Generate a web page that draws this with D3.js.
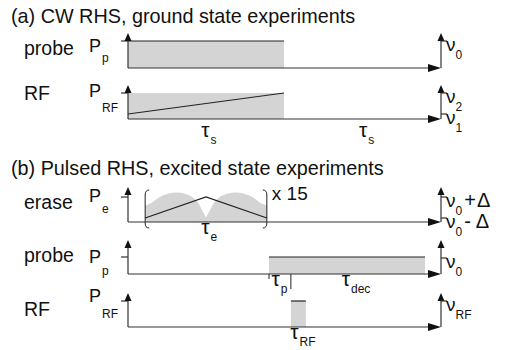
<!DOCTYPE html>
<html>
<head>
<meta charset="utf-8" />
<script src="https://cdn.jsdelivr.net/npm/d3@7"></script>
<style>
html, body { margin: 0; padding: 0; background: #fff; }
svg text { font-family: "Liberation Sans", Arial, Helvetica, sans-serif; fill: #111; }
.pulse { fill: #d4d4d4; stroke: none; }
.trace { stroke: #222; stroke-width: 1.2; fill: none; }
.axis { stroke: #333; stroke-width: 1.2; fill: none; }
.head { fill: #111; stroke: none; }
</style>
</head>
<body>
<div id="chart"></div>
<script>
// time runs 0..10 (arbitrary units) along every row
var timeDomain = [0, 10];

// (a) CW RHS, ground state
var cwProbePulse = [{t0: 0, t1: 5, p: 1}];
var cwRfPulse = [{t0: 0, t1: 5, p: 1}];
var cwRfSweep = [{t: 0, f: 0}, {t: 5, f: 1}];          // f: 0 = nu1, 1 = nu2
var cwTau = [{t: 2.35, sub: "s"}, {t: 7.4, sub: "s"}];

// (b) pulsed RHS, excited state
var eraseWindow = [0.55, 4.45];
var eraseSweep = [{t: 0.55, f: 0}, {t: 2.5, f: 1}, {t: 4.45, f: 0}];  // f: 0 = nu0-D, 1 = nu0+D
// envelope of the erase power: u = fraction of the window, a = amplitude
var eraseEnvelopeLeft = [
  [0, 0.66], [0.05, 0.76], [0.12, 1.0], [0.2, 1.15], [0.26, 1.18], [0.32, 1.14],
  [0.38, 1.02], [0.43, 0.8], [0.47, 0.45], [0.5, 0.18]
];
var eraseEnvelopeRight = [
  [0.5, 0.18], [0.53, 0.45], [0.57, 0.8], [0.62, 1.02], [0.68, 1.14], [0.74, 1.18],
  [0.8, 1.15], [0.88, 1.0], [0.95, 0.76], [1, 0.66]
];
var probePulse = [{t0: 4.52, t1: 9.52, p: 1}];
var rfPulse = [{t0: 5.22, t1: 5.7, p: 1}];
var probeMarks = [{t: 4.52, len: 5}, {t: 5.22, len: 15}];
var pulsedTau = [
  {t: 2.35, row: "erase", sub: "e"},
  {t: 4.6, row: "bProbe", sub: "p"},
  {t: 6.85, row: "bProbe", sub: "dec"},
  {t: 5.2, row: "bRf", sub: "RF"}
];

var titles = ["(a) CW RHS, ground state experiments", "(b) Pulsed RHS, excited state experiments"];

var width = 505, height = 350;
var x = d3.scaleLinear().domain(timeDomain).range([128, 440]);

// layout of each row
var rows = {
  aProbe: {label: "probe", labelY: 55, P: "p", pY: 52, subY: 62, base: 68, level: 41, tip: 33,
           fRange: [68, 41], ticks: [{f: 1, sub: "0"}]},
  aRf:    {label: "RF", labelY: 100, P: "RF", pY: 97, subY: 112, base: 119, level: 93, tip: 85,
           fRange: [114, 93], ticks: [{f: 1, sub: "2"}, {f: 0, sub: "1"}]},
  erase:  {label: "erase", labelY: 209, P: "e", pY: 202, subY: 213, base: 222, level: 197, tip: 187,
           fRange: [218, 197], ticks: [{f: 1, sub: "0", op: "+", gap: 1}, {f: 0, sub: "0", op: "-", gap: 5}]},
  bProbe: {label: "probe", labelY: 262, P: "p", pY: 263, subY: 275, base: 274, level: 257, tip: 240,
           fRange: [274, 258], ticks: [{f: 1, sub: "0"}]},
  bRf:    {label: "RF", labelY: 316, P: "RF", pY: 302, subY: 318, base: 327, level: 301, tip: 293,
           fRange: [327, 301], ticks: [{f: 1, sub: "RF"}]}
};

Object.keys(rows).forEach(function(k) {
  var r = rows[k];
  r.y = d3.scaleLinear().domain([0, 1]).range([r.base, r.level]);
  r.f = d3.scaleLinear().domain([0, 1]).range(r.fRange);
});

var svg = d3.select("#chart").append("svg")
  .attr("width", width).attr("height", height);

svg.selectAll("text.title").data(titles).enter().append("text")
  .attr("class", "title")
  .attr("x", 11)
  .attr("y", function(d, i) { return i === 0 ? 23 : 175; })
  .style("font-size", "19.8px")
  .text(function(d) { return d; });

function pulses(r, data) {
  svg.selectAll(null).data(data).enter().append("rect")
    .attr("class", "pulse")
    .attr("x", function(d) { return x(d.t0); })
    .attr("width", function(d) { return x(d.t1) - x(d.t0); })
    .attr("y", function(d) { return r.y(d.p); })
    .attr("height", function(d) { return r.y(0) - r.y(d.p); });
}

function pulseTops(r, data) {
  svg.selectAll(null).data(data).enter().append("line")
    .attr("class", "trace")
    .attr("x1", function(d) { return x(d.t0); })
    .attr("x2", function(d) { return x(d.t1); })
    .attr("y1", function(d) { return r.y(d.p); })
    .attr("y2", function(d) { return r.y(d.p); });
}

function tauLabel(t, yBase, sub) {
  var tx = svg.append("text").attr("x", x(t)).attr("y", yBase).style("font-size", "21px");
  tx.append("tspan").text("\u03c4");
  tx.append("tspan").attr("dy", 7).attr("dx", 1).style("font-size", "12px").text(sub);
}

// pulses first, axes drawn over them
pulses(rows.aProbe, cwProbePulse);
pulseTops(rows.aProbe, cwProbePulse);
pulses(rows.aRf, cwRfPulse);
svg.append("path").attr("class", "trace")
  .attr("d", d3.line().x(function(d) { return x(d.t); }).y(function(d) { return rows.aRf.f(d.f); })(cwRfSweep));

// erase envelope
var ew = d3.scaleLinear().domain([0, 1]).range(eraseWindow);
var envArea = d3.area()
  .x(function(d) { return x(ew(d[0])); })
  .y0(rows.erase.base)
  .y1(function(d) { return rows.erase.y(d[1]); })
  .curve(d3.curveCatmullRom);
[eraseEnvelopeLeft, eraseEnvelopeRight].forEach(function(h) {
  svg.append("path").attr("class", "pulse").attr("d", envArea(h));
});
svg.append("path").attr("class", "trace")
  .attr("d", d3.line().x(function(d) { return x(d.t); }).y(function(d) { return rows.erase.f(d.f); })(eraseSweep));

// brackets round the erase window
var bTop = rows.erase.tip + 3, bBot = rows.erase.base + 6;
eraseWindow.forEach(function(t, i) {
  var bx = x(t), s = i === 0 ? 1 : -1;
  svg.append("path").attr("class", "trace").style("stroke-width", 1)
    .attr("d", "M" + (bx + 4 * s) + "," + bTop +
      " Q" + bx + "," + bTop + " " + bx + "," + (bTop + 5) +
      " L" + bx + "," + (bBot - 5) +
      " Q" + bx + "," + bBot + " " + (bx + 4 * s) + "," + bBot);
});
svg.append("text").attr("x", x(eraseWindow[1]) + 5).attr("y", 200)
  .style("font-size", "19px").text("x 15");

pulses(rows.bProbe, probePulse);
pulseTops(rows.bProbe, probePulse);
pulses(rows.bRf, rfPulse);
pulseTops(rows.bRf, rfPulse);

svg.selectAll(null).data(probeMarks).enter().append("line")
  .attr("class", "trace").style("stroke-width", 1)
  .attr("x1", function(d) { return x(d.t); })
  .attr("x2", function(d) { return x(d.t); })
  .attr("y1", rows.bProbe.base)
  .attr("y2", function(d) { return rows.bProbe.base + d.len; });

// axes for each row
Object.keys(rows).forEach(function(k) {
  var r = rows[k];
  var x0 = x(timeDomain[0]), x1 = x(timeDomain[1]) + 1;
  var g = svg.append("g");
  g.append("line").attr("class", "axis").attr("x1", x0).attr("x2", x0).attr("y1", r.base).attr("y2", r.tip + 4);
  g.append("line").attr("class", "axis").attr("x1", x0).attr("x2", x1 - 8).attr("y1", r.base).attr("y2", r.base);
  g.append("line").attr("class", "axis").attr("x1", x1).attr("x2", x1).attr("y1", r.base).attr("y2", r.tip + 4);
  g.append("line").attr("class", "axis").attr("x1", x0 - 7).attr("x2", x0).attr("y1", r.level).attr("y2", r.level);
  [x0, x1].forEach(function(ax) {
    g.append("path").attr("class", "head")
      .attr("d", "M" + (ax - 3.5) + "," + (r.tip + 8) + " L" + ax + "," + r.tip + " L" + (ax + 3.5) + "," + (r.tip + 8) + "Z");
  });
  g.append("path").attr("class", "head")
    .attr("d", "M" + (x1 - 13) + "," + (r.base - 4) + " L" + x1 + "," + r.base + " L" + (x1 - 13) + "," + (r.base + 4) + "Z");

  // left labels
  g.append("text").attr("x", 24).attr("y", r.labelY).style("font-size", "19.5px").text(r.label);
  g.append("text").attr("x", 89).attr("y", r.pY).style("font-size", "18px").text("P");
  g.append("text").attr("x", 102).attr("y", r.subY).style("font-size", "12px").text(r.P);

  // frequency ticks on the right axis
  r.ticks.forEach(function(tk) {
    var ty = r.f(tk.f);
    g.append("line").attr("class", "axis").attr("x1", x1).attr("x2", x1 + 6).attr("y1", ty).attr("y2", ty);
    var t = g.append("text").attr("x", x1 + 5).attr("y", ty + 10).style("font-size", "19px");
    t.append("tspan").text("\u03bd");
    t.append("tspan").attr("dy", 8).style("font-size", "12px").text(tk.sub);
    if (tk.op) {
      t.append("tspan").attr("dy", -8).attr("dx", 2).style("font-size", "20px").text(tk.op);
      t.append("tspan").attr("dx", tk.gap).style("font-size", "20px").text("\u0394");
    }
  });
});

cwTau.forEach(function(d) { tauLabel(d.t, 137, d.sub); });
pulsedTau.forEach(function(d) { tauLabel(d.t, rows[d.row].base + 12, d.sub); });
</script>
</body>
</html>
